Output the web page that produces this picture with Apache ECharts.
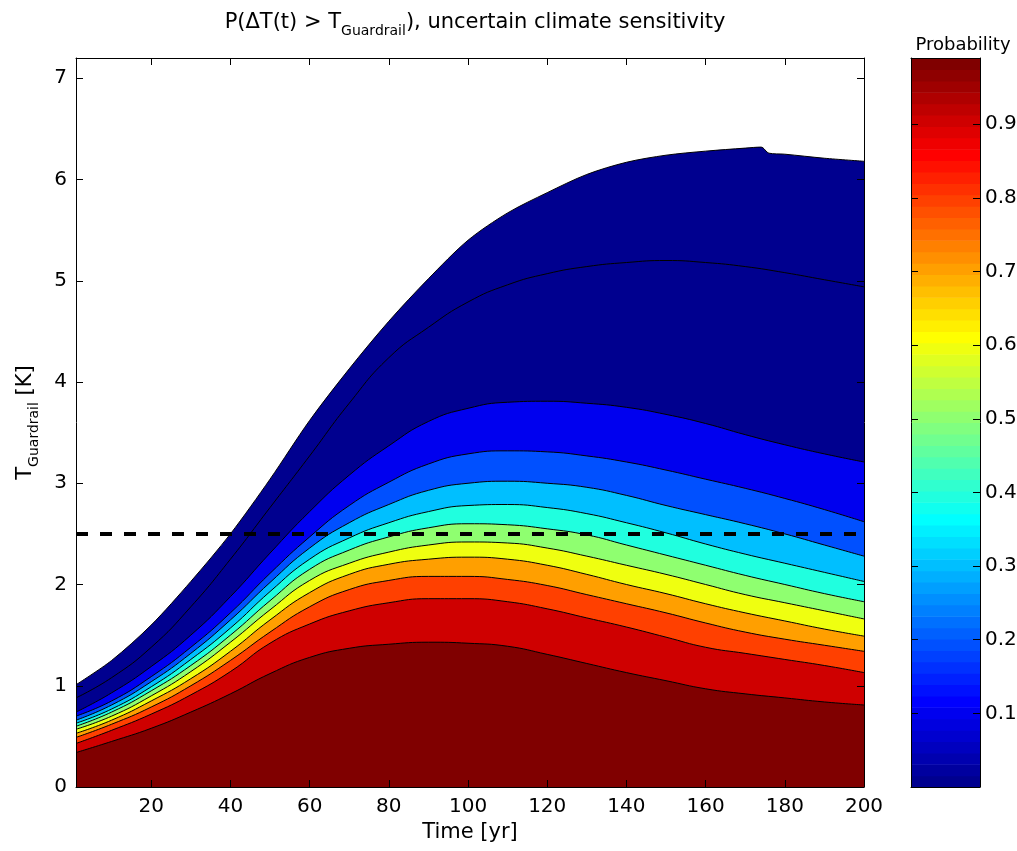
<!DOCTYPE html>
<html>
<head>
<meta charset="utf-8">
<title>P(ΔT(t) > T_Guardrail)</title>
<script src="https://cdn.jsdelivr.net/npm/echarts@6/dist/echarts.min.js"></script>
<style>
  html, body { margin: 0; padding: 0; background: #fff; }
  #chart { width: 1017px; height: 851px; }
</style>
</head>
<body>
<div id="chart"></div>
<script>
// time axis of the contour lines [yr]
const years = [1, 10, 20, 30, 40, 50, 60, 70, 80, 90, 100, 110, 120, 130, 140, 150, 160, 170, 180, 190, 200];
const edgeYears = [1, 10, 20, 30, 40, 50, 60, 70, 80, 90, 100, 110, 120, 130, 140, 150, 160, 170, 174, 176, 180, 190, 200];

// T_Guardrail [K] at which P(dT(t) > T) equals the contour level
const tEdge = [1.01, 1.25, 1.60, 2.03, 2.50, 3.04, 3.62, 4.13, 4.60, 5.02, 5.40, 5.67, 5.87, 6.05, 6.17, 6.24, 6.28, 6.31, 6.32, 6.26, 6.25, 6.21, 6.18];
const t01 = [0.88, 1.08, 1.38, 1.78, 2.25, 2.76, 3.27, 3.79, 4.24, 4.54, 4.79, 4.96, 5.07, 5.14, 5.18, 5.20, 5.18, 5.14, 5.08, 5.01, 4.94];
const t10 = [0.74, 0.93, 1.19, 1.50, 1.88, 2.31, 2.72, 3.08, 3.37, 3.61, 3.74, 3.80, 3.81, 3.79, 3.75, 3.68, 3.59, 3.48, 3.38, 3.29, 3.21];
const t20 = [0.70, 0.85, 1.09, 1.38, 1.72, 2.11, 2.47, 2.78, 3.01, 3.19, 3.29, 3.32, 3.31, 3.27, 3.21, 3.13, 3.04, 2.95, 2.85, 2.74, 2.62];
const t30 = [0.66, 0.81, 1.04, 1.32, 1.65, 2.02, 2.36, 2.61, 2.79, 2.93, 3.00, 3.02, 3.00, 2.96, 2.88, 2.78, 2.69, 2.60, 2.50, 2.39, 2.28];
const t40 = [0.63, 0.77, 0.99, 1.26, 1.57, 1.93, 2.25, 2.46, 2.61, 2.72, 2.78, 2.79, 2.76, 2.70, 2.61, 2.51, 2.40, 2.30, 2.21, 2.12, 2.03];
const t50 = [0.60, 0.74, 0.95, 1.20, 1.50, 1.84, 2.15, 2.34, 2.47, 2.56, 2.60, 2.59, 2.55, 2.49, 2.39, 2.29, 2.19, 2.09, 2.00, 1.91, 1.83];
const t60 = [0.57, 0.70, 0.90, 1.14, 1.43, 1.75, 2.04, 2.21, 2.32, 2.39, 2.42, 2.41, 2.36, 2.28, 2.19, 2.10, 2.00, 1.90, 1.82, 1.74, 1.66];
const t70 = [0.53, 0.66, 0.85, 1.07, 1.34, 1.65, 1.92, 2.10, 2.20, 2.25, 2.27, 2.25, 2.19, 2.10, 2.00, 1.91, 1.81, 1.72, 1.64, 1.56, 1.49];
const t80 = [0.49, 0.62, 0.79, 1.00, 1.25, 1.53, 1.78, 1.95, 2.04, 2.08, 2.08, 2.05, 1.99, 1.90, 1.81, 1.72, 1.62, 1.53, 1.46, 1.40, 1.34];
const t90 = [0.43, 0.56, 0.72, 0.91, 1.14, 1.42, 1.61, 1.74, 1.82, 1.86, 1.86, 1.83, 1.76, 1.67, 1.58, 1.48, 1.38, 1.32, 1.26, 1.20, 1.13];
const t99 = [0.34, 0.45, 0.58, 0.74, 0.92, 1.12, 1.28, 1.37, 1.41, 1.43, 1.42, 1.39, 1.31, 1.22, 1.13, 1.05, 0.97, 0.92, 0.88, 0.84, 0.81];

const levels = [0.001, 0.01, 0.1, 0.2, 0.3, 0.4, 0.5, 0.6, 0.7, 0.8, 0.9, 0.99];
const guardrail = 2.5;

const xTicks = [20, 40, 60, 80, 100, 120, 140, 160, 180, 200];
const yTicks = [0, 1, 2, 3, 4, 5, 6, 7];
const cbTicks = [0.1, 0.2, 0.3, 0.4, 0.5, 0.6, 0.7, 0.8, 0.9];
const cbMax = 0.99;
const nColors = 64;

const FONT = "'DejaVu Sans', 'Liberation Sans', Arial, sans-serif";

// matlab jet(64)
function jet(i) {
  const u = [];
  for (let k = 1; k <= 16; k++) u.push(k / 16);
  for (let k = 0; k < 15; k++) u.push(1);
  for (let k = 16; k >= 1; k--) u.push(k / 16);
  const n = i + 1;
  const r = n >= 25 ? u[n - 25] : 0;
  const g = n >= 9 && n <= 55 ? u[n - 9] : 0;
  const b = n <= 39 ? u[n + 7] : 0;
  const h = v => Math.round(v * 255).toString(16).padStart(2, '0');
  return '#' + h(r) + h(g) + h(b);
}
function levelColor(v) {
  return jet(Math.min(nColors - 1, Math.floor(v / cbMax * nColors)));
}

const contours = [
  [edgeYears, tEdge], [years, t01], [years, t10], [years, t20], [years, t30], [years, t40],
  [years, t50], [years, t60], [years, t70], [years, t80], [years, t90], [years, t99]
];

const series = contours.map(([xs, ys], k) => ({
  type: 'line',
  xAxisIndex: 0,
  yAxisIndex: 0,
  data: xs.map((x, i) => [x, ys[i]]),
  symbol: 'none',
  smooth: k === 0 ? 0.3 : 0.5,
  silent: true,
  lineStyle: { color: '#000', width: 1 },
  areaStyle: { color: levelColor(levels[k]), opacity: 1, origin: 'start' },
  z: 2
}));

series.push({
  type: 'line',
  xAxisIndex: 0,
  yAxisIndex: 0,
  data: [[1, guardrail], [200, guardrail]],
  symbol: 'none',
  silent: true,
  lineStyle: { color: '#000', width: 4, type: [12, 12] },
  z: 5
});

// colour bar
const cbData = [];
for (let i = 0; i < nColors; i++) cbData.push([0, i * cbMax / nColors, (i + 1) * cbMax / nColors]);
series.push({
  type: 'custom',
  xAxisIndex: 2,
  yAxisIndex: 2,
  data: cbData,
  encode: { x: 0, y: [1, 2] },
  silent: true,
  renderItem: function (params, api) {
    const p0 = api.coord([0, api.value(1)]);
    const p1 = api.coord([1, api.value(2)]);
    return {
      type: 'rect',
      shape: { x: p0[0], y: p1[1], width: p1[0] - p0[0], height: p0[1] - p1[1] + 0.6 },
      style: { fill: jet(params.dataIndex) }
    };
  }
});

const tick = { inside: true, length: 7, lineStyle: { color: '#000', width: 1 } };
const line = { show: true, onZero: false, lineStyle: { color: '#000', width: 1 } };
const label = { color: '#000', fontSize: 20, fontFamily: FONT };
const sub = {
  t: { fontSize: 21, fontFamily: FONT, fontWeight: 'normal', color: '#000', lineHeight: 25, verticalAlign: 'top' },
  s: { fontSize: 14, fontFamily: FONT, fontWeight: 'normal', color: '#000', lineHeight: 15, padding: [14, 0, 0, 0] }
};

const chart = echarts.init(document.getElementById('chart'));
chart.setOption({
  animation: false,
  backgroundColor: '#fff',
  title: [
    {
      text: '{t|P(ΔT(t) > T}{s|Guardrail}{t|), uncertain climate sensitivity}',
      left: 470,
      top: 7,
      textAlign: 'center',
      textStyle: { fontWeight: 'normal', rich: sub }
    },
    {
      text: 'Probability',
      left: 958,
      top: 31,
      textAlign: 'center',
      textStyle: { color: '#000', fontSize: 18, fontWeight: 'normal', fontFamily: FONT }
    }
  ],
  grid: [
    { left: 76, right: 153, top: 58, bottom: 64, outerBoundsMode: 'none' },
    { left: 911, width: 69, top: 58, bottom: 64, outerBoundsMode: 'none' }
  ],
  xAxis: [
    {
      gridIndex: 0, type: 'value', min: 1, max: 200, z: 10,
      axisLine: line, splitLine: { show: false },
      axisTick: Object.assign({ customValues: xTicks }, tick),
      axisLabel: Object.assign({ customValues: xTicks, margin: 10 }, label),
      name: 'Time [yr]', nameLocation: 'middle', nameGap: 32,
      nameTextStyle: { color: '#000', fontSize: 21, fontFamily: FONT }
    },
    {
      gridIndex: 0, type: 'value', min: 1, max: 200, position: 'top', z: 10,
      axisLine: line, splitLine: { show: false },
      axisTick: Object.assign({ customValues: xTicks }, tick),
      axisLabel: { show: false }
    },
    {
      gridIndex: 1, type: 'value', min: 0, max: 1, z: 10,
      axisLine: line, splitLine: { show: false }, axisTick: { show: false }, axisLabel: { show: false }
    },
    {
      gridIndex: 1, type: 'value', min: 0, max: 1, position: 'top', z: 10,
      axisLine: line, splitLine: { show: false }, axisTick: { show: false }, axisLabel: { show: false }
    }
  ],
  yAxis: [
    {
      gridIndex: 0, type: 'value', min: 0, max: 7.2, z: 10,
      axisLine: line, splitLine: { show: false },
      axisTick: Object.assign({ customValues: yTicks }, tick),
      axisLabel: Object.assign({ customValues: yTicks, margin: 9 }, label),
      name: '{t|T}{s|Guardrail}{t| [K]}', nameLocation: 'middle', nameGap: 36, nameRotate: 90,
      nameTextStyle: { rich: sub }
    },
    {
      gridIndex: 0, type: 'value', min: 0, max: 7.2, position: 'right', z: 10,
      axisLine: line, splitLine: { show: false },
      axisTick: Object.assign({ customValues: yTicks }, tick),
      axisLabel: { show: false }
    },
    {
      gridIndex: 1, type: 'value', min: 0, max: cbMax, z: 10,
      axisLine: line, splitLine: { show: false },
      axisTick: Object.assign({ customValues: cbTicks }, tick),
      axisLabel: { show: false }
    },
    {
      gridIndex: 1, type: 'value', min: 0, max: cbMax, position: 'right', z: 10,
      axisLine: line, splitLine: { show: false },
      axisTick: Object.assign({ customValues: cbTicks }, tick),
      axisLabel: Object.assign({ customValues: cbTicks, margin: 5, formatter: v => v.toFixed(1) }, label)
    }
  ],
  series: series
});
</script>
</body>
</html>
